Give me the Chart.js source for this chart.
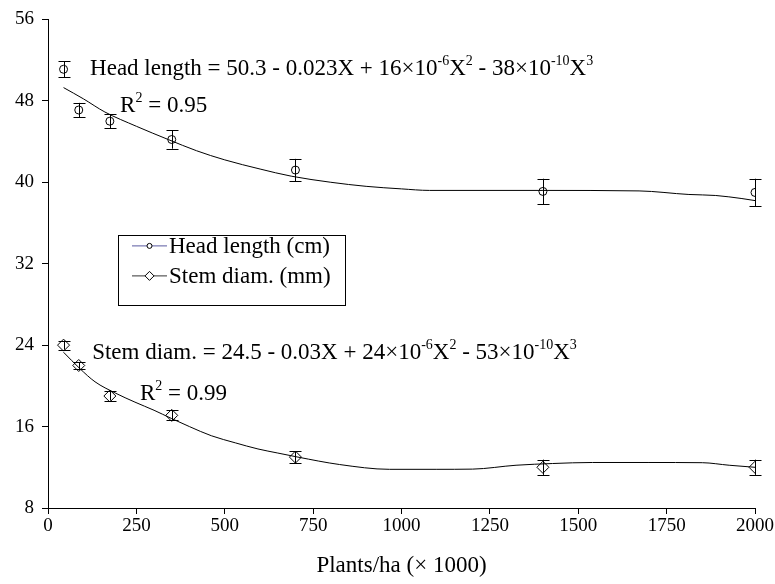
<!DOCTYPE html>
<html><head><meta charset="utf-8">
<script src="https://cdn.jsdelivr.net/npm/chart.js@4/dist/chart.umd.min.js"></script>
<style>html,body{margin:0;padding:0;background:#fff}#wrap{width:775px;height:584px}</style>
</head><body><div id="wrap"><canvas id="c" width="775" height="584"></canvas></div>
<script>
// Observed data
const densities = [44, 87, 175, 350, 700, 1400, 2000];
const headLength = [51.1, 47.1, 46.0, 44.2, 41.2, 39.1, 39.0];
const headErr = [0.8, 0.7, 0.7, 0.9, 1.1, 1.25, 1.35];
const stemDiam = [24.0, 22.0, 19.0, 17.1, 13.0, 12.0, 12.0];
const stemErr = [0.45, 0.35, 0.45, 0.5, 0.6, 0.75, 0.75];

// Fitted curves
const headFitX = [44, 100, 161, 250, 340, 420, 500, 600, 688, 800, 900, 1000, 1079, 1400, 1672, 1813, 1889, 1963, 2000];
const headFitY = [49.3, 48.2, 46.9, 45.5, 44.2, 43.1, 42.2, 41.3, 40.6, 40.0, 39.6, 39.35, 39.2, 39.2, 39.15, 38.8, 38.7, 38.4, 38.2];
const stemFitX = [44, 90, 133, 190, 246, 300, 349, 400, 462, 530, 594, 650, 707, 825, 966, 1100, 1201, 1324, 1427, 1540, 1700, 1851, 1927, 2000];
const stemFitY = [23.3, 21.7, 20.4, 19.3, 18.4, 17.6, 16.8, 16.0, 15.1, 14.4, 13.8, 13.4, 13.0, 12.27, 11.8, 11.8, 11.82, 12.2, 12.37, 12.47, 12.47, 12.45, 12.2, 12.0];

const xTicks = [0, 250, 500, 750, 1000, 1250, 1500, 1750, 2000];
const yTicks = [8, 16, 24, 32, 40, 48, 56];
const xTitle = 'Plants/ha (\u00d7 1000)';
const seriesNames = ['Head length (cm)', 'Stem diam. (mm)'];

const headEq = [['Head length = 50.3 - 0.023X + 16\u00d710',0],['-6',1],['X',0],['2',1],[' - 38\u00d710',0],['-10',1],['X',0],['3',1]];
const headR2 = [['R',0],['2',1],[' = 0.95',0]];
const stemEq = [['Stem diam. = 24.5 - 0.03X + 24\u00d710',0],['-6',1],['X',0],['2',1],[' - 53\u00d710',0],['-10',1],['X',0],['3',1]];
const stemR2 = [['R',0],['2',1],[' = 0.99',0]];
// annotation anchors in data units
const annotations = [
  {seg: headEq, x: 119, y: 50.55},
  {seg: headR2, x: 204, y: 46.9},
  {seg: stemEq, x: 125, y: 22.6},
  {seg: stemR2, x: 260, y: 18.6}
];

const FONT = '"Liberation Serif", "Times New Roman", serif';
const TXT = 23;
const pts = (xs, ys) => xs.map((x, i) => ({x: x, y: ys[i]}));

const errorBars = {
  id: 'errorBars',
  afterDatasetsDraw(chart) {
    const ctx = chart.ctx, xs = chart.scales.x, ys = chart.scales.y;
    ctx.save();
    ctx.strokeStyle = '#000'; ctx.lineWidth = 1;
    [[headLength, headErr],[stemDiam, stemErr]].forEach(([vals, errs]) => {
      densities.forEach((d, i) => {
        const px = Math.round(xs.getPixelForValue(d)) + 0.5;
        const top = ys.getPixelForValue(vals[i] + errs[i]);
        const bot = ys.getPixelForValue(vals[i] - errs[i]);
        ctx.beginPath();
        ctx.moveTo(px, top); ctx.lineTo(px, bot);
        ctx.moveTo(px - 6, Math.round(top)+0.5); ctx.lineTo(px + 6, Math.round(top)+0.5);
        ctx.moveTo(px - 6, Math.round(bot)+0.5); ctx.lineTo(px + 6, Math.round(bot)+0.5);
        ctx.stroke();
      });
    });
    ctx.restore();
  }
};

function drawRich(ctx, x, y, seg, size) {
  let cx = x;
  seg.forEach(([t, sup]) => {
    if (sup) {
      ctx.font = Math.round(size * 0.6) + 'px ' + FONT;
      ctx.fillText(t, cx, y - size * 0.45);
    } else {
      ctx.font = size + 'px ' + FONT;
      ctx.fillText(t, cx, y);
    }
    cx += ctx.measureText(t).width;
  });
}

const textPlugin = {
  id: 'texts',
  afterDraw(chart) {
    const ctx = chart.ctx, xs = chart.scales.x, ys = chart.scales.y, ca = chart.chartArea;
    ctx.save();
    ctx.fillStyle = '#000'; ctx.textBaseline = 'alphabetic'; ctx.textAlign = 'left';
    annotations.forEach(a => drawRich(ctx, xs.getPixelForValue(a.x), ys.getPixelForValue(a.y), a.seg, TXT));
    // legend box
    const lx = ca.left + 70, ly = ca.top + 216, lw = 227, lh = 70;
    ctx.fillStyle = '#fff';
    ctx.fillRect(lx, ly, lw, lh);
    ctx.strokeStyle = '#000'; ctx.lineWidth = 1;
    ctx.strokeRect(Math.round(lx) + 0.5, Math.round(ly) + 0.5, lw, lh);
    const colors = ['#5a5aa0', '#333'];
    seriesNames.forEach((name, i) => {
      const yy = ly + 10 + i * 30 + 0.5;
      ctx.strokeStyle = colors[i];
      ctx.beginPath(); ctx.moveTo(lx + 14, yy); ctx.lineTo(lx + 49, yy); ctx.stroke();
      ctx.strokeStyle = '#000'; ctx.fillStyle = '#fff';
      const mx = lx + 31.5;
      ctx.beginPath();
      if (i === 0) { ctx.arc(mx, yy, 2.5, 0, Math.PI * 2); }
      else { ctx.moveTo(mx, yy - 4.5); ctx.lineTo(mx + 4.5, yy); ctx.lineTo(mx, yy + 4.5); ctx.lineTo(mx - 4.5, yy); ctx.closePath(); }
      ctx.fill(); ctx.stroke();
      ctx.fillStyle = '#000';
      ctx.font = TXT + 'px ' + FONT;
      ctx.textBaseline = 'middle';
      ctx.fillText(name, lx + 51, yy + 1);
    });
    ctx.restore();
  }
};

new Chart(document.getElementById('c'), {
  type: 'scatter',
  data: {
    datasets: [
      {label: seriesNames[0] + ' fit', data: pts(headFitX, headFitY), showLine: true, borderColor: '#000', borderWidth: 1, pointRadius: 0, cubicInterpolationMode: 'monotone'},
      {label: seriesNames[1] + ' fit', data: pts(stemFitX, stemFitY), showLine: true, borderColor: '#000', borderWidth: 1, pointRadius: 0, cubicInterpolationMode: 'monotone'},
      {label: seriesNames[0], data: pts(densities, headLength), showLine: false, pointStyle: 'circle', pointRadius: 4, borderColor: '#000', backgroundColor: '#fff', borderWidth: 1},
      {label: seriesNames[1], data: pts(densities, stemDiam), showLine: false, pointStyle: 'rectRot', pointRadius: 6, borderColor: '#000', backgroundColor: '#fff', borderWidth: 1}
    ]
  },
  options: {
    responsive: false, animation: false,
    layout: {padding: {top: 17, right: 19, left: 0, bottom: 0}},
    plugins: {legend: {display: false}, tooltip: {enabled: false}},
    scales: {
      x: {
        type: 'linear', min: 0, max: 2000,
        afterBuildTicks: s => { s.ticks = xTicks.map(v => ({value: v})); },
        afterFit: s => { s.height = 76; },
        grid: {drawOnChartArea: false, drawTicks: true, tickLength: 6, color: '#000'},
        border: {display: true, color: '#000', width: 1},
        ticks: {color: '#000', font: {family: FONT, size: 19}, padding: 1, maxRotation: 0, autoSkip: false, callback: v => String(v)},
        title: {display: true, text: xTitle, color: '#000', font: {family: FONT, size: 23}, padding: {top: 3}}
      },
      y: {
        type: 'linear', min: 8, max: 56,
        afterBuildTicks: s => { s.ticks = yTicks.map(v => ({value: v})); },
        afterFit: s => { s.width = 48; },
        grid: {drawOnChartArea: false, drawTicks: true, tickLength: 6, color: '#000'},
        border: {display: true, color: '#000', width: 1},
        ticks: {color: '#000', font: {family: FONT, size: 19}, padding: 8, callback: v => String(v)}
      }
    }
  },
  plugins: [errorBars, textPlugin]
});
</script></body></html>
